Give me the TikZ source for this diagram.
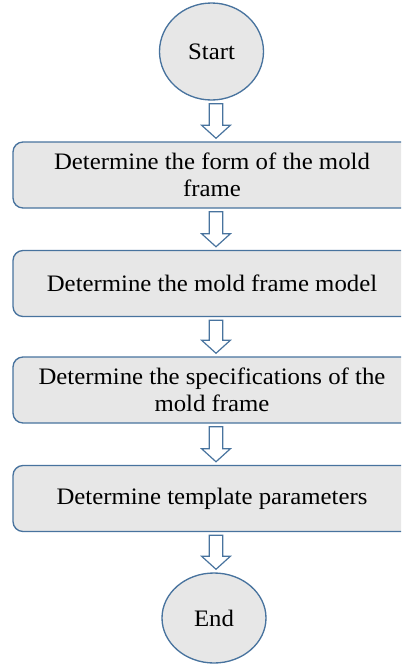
\documentclass[tikz,border=0pt]{standalone}
\usepackage{fontspec}
\setmainfont[FakeStretch=1.05]{Liberation Serif}
\usetikzlibrary{shapes.geometric,calc}
\definecolor{bordc}{RGB}{72,115,158}
\definecolor{boxfill}{RGB}{231,231,231}
\tikzset{
  px/.style={x=0.75pt,y=-0.75pt},
  stepbox/.style={draw=bordc, fill=boxfill, line width=1pt, rounded corners=7.5pt,
    minimum width=298.5pt, minimum height=49.5pt, inner sep=0pt, align=center,
    font=\fontsize{17.7}{20.3}\selectfont},
  term/.style={draw=bordc, fill=boxfill, line width=1pt, ellipse, inner sep=0pt,
    minimum width=78pt, font=\fontsize{17.7}{20.3}\selectfont},
  blockarr/.style={draw=bordc, fill=white, line width=0.9pt, line join=miter}
}
\newcommand\blockarrow[2]{%
  \path[blockarr] let \p1=(#1.south), \p2=(#2.north), \p3=(axis) in
    (\x3-5.1pt,\y1-2.3pt) -- (\x3+5.1pt,\y1-2.3pt) -- (\x3+5.1pt,\y2+12pt)
    -- (\x3+10.7pt,\y2+12pt) -- (\x3,\y2+2.3pt) -- (\x3-10.7pt,\y2+12pt)
    -- (\x3-5.1pt,\y2+12pt) -- cycle;}
\begin{document}
\begin{tikzpicture}[px]
\useasboundingbox (0,0) rectangle (401,665);
\clip (0,0) rectangle (401,665);
\coordinate (axis) at (216,0);
\node[term, minimum height=72.75pt] (start) at (211.5,51.5) {Start};
\node[stepbox] (b1) at (212,175) {Determine the form of the mold\\frame};
\node[stepbox] (b2) at (212,283.5) {Determine the mold frame model};
\node[stepbox] (b3) at (212,390) {Determine the specifications of the\\mold frame};
\node[stepbox] (b4) at (212,498.5) {Determine template parameters};
\node[term, minimum height=67.5pt] (end) at (214,618) {End};
\blockarrow{start}{b1}
\blockarrow{b1}{b2}
\blockarrow{b2}{b3}
\blockarrow{b3}{b4}
\blockarrow{b4}{end}
\end{tikzpicture}
\end{document}
